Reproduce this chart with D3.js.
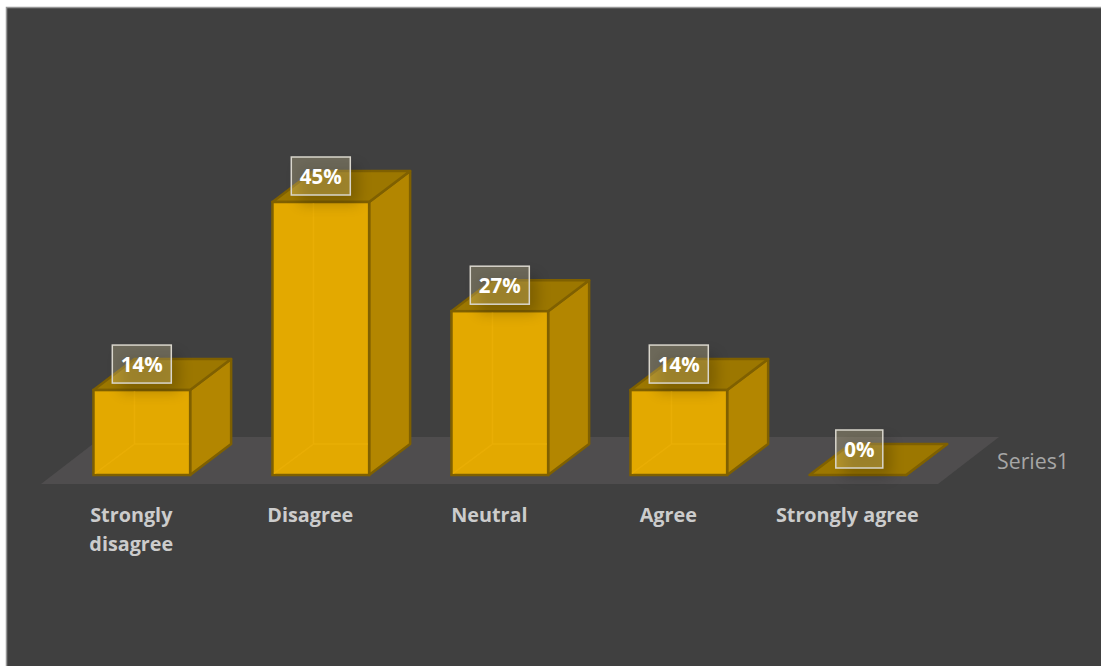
<!DOCTYPE html>
<html>
<head>
<meta charset="utf-8">
<script src="https://cdn.jsdelivr.net/npm/d3@7"></script>
<style>
  html, body { margin: 0; padding: 0; background: #fff; overflow: hidden; }
  svg { display: block; }
  text { font-family: "Open Sans", "Noto Sans", sans-serif; }
</style>
</head>
<body>
<svg id="chart" width="1101" height="666"></svg>
<script>
// Survey responses, in percent
const categories = ["Strongly disagree", "Disagree", "Neutral", "Agree", "Strongly agree"];
const values = [14, 45, 27, 14, 0];
const seriesName = "Series1";

const svg = d3.select("#chart");

// Card background with its thin grey rim
svg.append("rect").attr("x", 6.5).attr("y", 7.5).attr("width", 1100).attr("height", 664)
  .attr("fill", "#404040").attr("stroke", "#969696").attr("stroke-width", 1.5);

const defs = svg.append("defs");
defs.append("filter").attr("id", "soft").attr("x", "-40%").attr("y", "-40%").attr("width", "180%").attr("height", "180%")
  .append("feGaussianBlur").attr("stdDeviation", 7);

const baseY = 475;
const x = d3.scaleBand().domain(categories).range([52.3, 947.3]).paddingInner(0.46).paddingOuter(0.23);
const y = d3.scaleLinear().domain([0, 45]).range([baseY, 202]);

// Oblique projection offset for the third dimension
const depth = { dx: 41, dy: -31 };
const path = pts => "M" + pts.map(p => p.join(",")).join("L") + "Z";

// Floor of the 3D plot
const floorTop = 437, floorBottom = 484;
svg.append("path")
  .attr("d", path([[41, floorBottom], [938, floorBottom], [999, floorTop], [102, floorTop]]))
  .attr("fill", "#4f4d4e");

const edge = "#7f6000";
const rows = categories.map((c, i) => ({ c, v: values[i] }));
const bars = svg.append("g").selectAll("g").data(rows).join("g");

const geom = d => {
  const x0 = x(d.c), x1 = x0 + x.bandwidth(), yt = y(d.v);
  return { x0, x1, yt, dx: depth.dx, dy: depth.dy };
};

// Right side
bars.append("path")
  .attr("d", d => { const g = geom(d); return path([[g.x1, baseY], [g.x1 + g.dx, baseY + g.dy], [g.x1 + g.dx, g.yt + g.dy], [g.x1, g.yt]]); })
  .attr("fill", "#b38600").attr("stroke", edge).attr("stroke-width", 2.5).attr("stroke-linejoin", "round");

// Top
bars.append("path")
  .attr("d", d => { const g = geom(d); return path([[g.x0, g.yt], [g.x1, g.yt], [g.x1 + g.dx, g.yt + g.dy], [g.x0 + g.dx, g.yt + g.dy]]); })
  .attr("fill", "#9c7700").attr("stroke", edge).attr("stroke-width", 2.5).attr("stroke-linejoin", "round");

// Front face, only where the bar has height
bars.filter(d => d.v > 0).append("rect")
  .attr("x", d => x(d.c)).attr("y", d => y(d.v))
  .attr("width", x.bandwidth()).attr("height", d => baseY - y(d.v))
  .attr("fill", "#e3a900").attr("stroke", edge).attr("stroke-width", 2.5);

// Hidden edges showing through the translucent front
bars.filter(d => d.v > 0).append("path")
  .attr("d", d => {
    const g = geom(d), bx = g.x0 + g.dx, by = baseY + g.dy;
    return `M${bx},${g.yt + 1.5}L${bx},${by}L${g.x0 + 1.5},${baseY - 1.5}M${bx},${by}L${g.x1 - 1.5},${by}`;
  })
  .attr("fill", "none").attr("stroke", "#e9ae05").attr("stroke-width", 1.5);

// Value labels: soft shadow, then the framed box, then the number
const labelW = v => (String(v).length > 1 ? 59 : 47), labelH = 38;
const labelCx = d => x(d.c) + x.bandwidth() / 2 + (d.v === 0 ? 1.5 : 0);
const labelCy = d => y(d.v) - 26;

const labels = svg.append("g").selectAll("g").data(rows).join("g")
  .attr("transform", d => `translate(${labelCx(d)},${labelCy(d)})`);

labels.append("rect")
  .attr("x", d => -labelW(d.v) / 2 + 8).attr("y", -labelH / 2 + 9)
  .attr("width", d => labelW(d.v)).attr("height", labelH)
  .attr("fill", "#000").attr("opacity", 0.2).attr("filter", "url(#soft)");

labels.append("rect")
  .attr("x", d => -labelW(d.v) / 2).attr("y", -labelH / 2)
  .attr("width", d => labelW(d.v)).attr("height", labelH)
  .attr("fill", "#ffeeb0").attr("fill-opacity", 0.24)
  .attr("stroke", "#d9d6cc").attr("stroke-width", 1.5);

labels.append("text")
  .attr("text-anchor", "middle").attr("y", 7.5)
  .attr("font-size", 20.5).attr("font-weight", 700).attr("fill", "#ffffff")
  .text(d => d.v + "%");

// Category axis, drawn along the front of the floor
const axis = d3.axisBottom(x).tickSize(0).tickPadding(0);
const axisG = svg.append("g")
  .attr("transform", `translate(-10.5,${floorBottom + 19})`)
  .call(axis);
axisG.select(".domain").remove();
axisG.selectAll("text")
  .attr("font-size", 19.8).attr("font-weight", 700).attr("fill", "#cccccc")
  .style("font-family", '"Open Sans", "Noto Sans", sans-serif')
  .attr("dy", null).attr("y", 19)
  .each(function (d) {
    // The first category is too long for its slot and breaks onto two lines
    if (d === "Strongly disagree") {
      const t = d3.select(this).text(null);
      d.split(" ").forEach((w, i) => {
        t.append("tspan").attr("x", 0).attr("y", 19 + i * 29).text(w);
      });
    }
  });

// Series axis label at the floor's right edge
svg.append("text")
  .attr("x", 997).attr("y", 469)
  .attr("font-size", 21.3).attr("fill", "#a6a6a6")
  .text(seriesName);
</script>
</body>
</html>
